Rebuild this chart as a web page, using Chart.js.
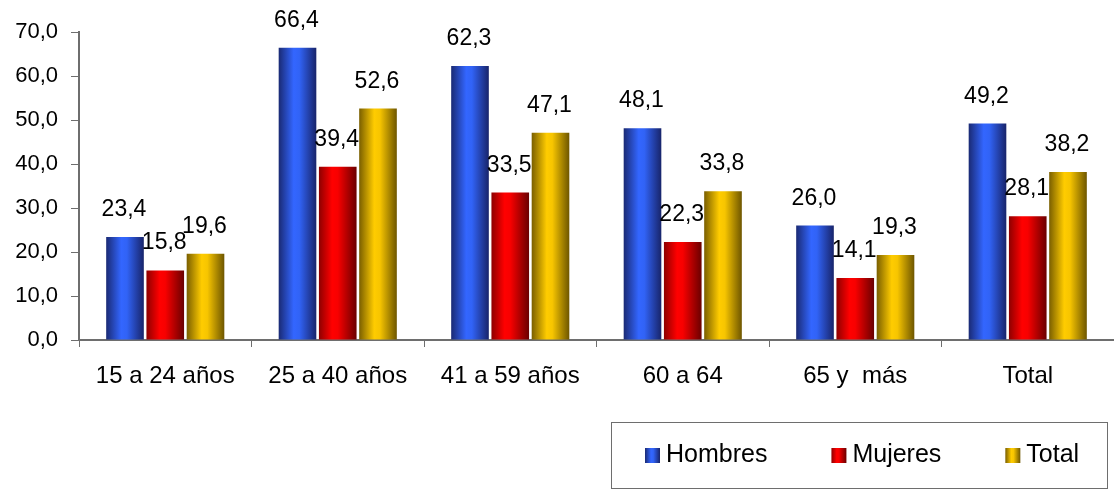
<!DOCTYPE html>
<html>
<head>
<meta charset="utf-8">
<title>Hombres, Mujeres y Total por grupo de edad</title>
<script src="https://cdn.jsdelivr.net/npm/chart.js@4.4.0/dist/chart.umd.min.js"></script>
<style>
  html, body { margin: 0; padding: 0; background: #ffffff; }
  #wrap { width: 1114px; height: 489px; }
</style>
</head>
<body>
<div id="wrap"><canvas id="chart" width="1114" height="489"></canvas></div>
<script>
// Age groups and the three series
const categories = ['15 a 24 años', '25 a 40 años', '41 a 59 años', '60 a 64', '65 y  más', 'Total'];
const hombres = [23.4, 66.4, 62.3, 48.1, 26.0, 49.2];
const mujeres = [15.8, 39.4, 33.5, 22.3, 14.1, 28.1];
const total   = [19.6, 52.6, 47.1, 33.8, 19.3, 38.2];
const seriesNames = ['Hombres', 'Mujeres', 'Total'];
const yTicks = [0, 10, 20, 30, 40, 50, 60, 70];

const FONT = '"Liberation Sans", Arial, Helvetica, sans-serif';

// Horizontal shading stops that give each bar a rounded, cylinder-like look
const blueShade   = [[0, '#1a2a74'], [0.40, '#3366ff'], [0.55, '#3163f6'], [1, '#18246a']];
const redShade    = [[0, '#8e0000'], [0.35, '#ff0000'], [0.50, '#f80000'], [1, '#6a0000']];
const yellowShade = [[0, '#7a5f00'], [0.40, '#ffcc00'], [0.55, '#f7c500'], [1, '#6e5600']];

const fmt = v => Number(v).toFixed(1).replace('.', ',');

function shadeGradient(ctx, left, width, stops) {
  const g = ctx.createLinearGradient(left, 0, left + width, 0);
  stops.forEach(([o, c]) => g.addColorStop(o, c));
  return g;
}

// Apply the cylinder shading to every bar just before the bars are painted
const cylinderShade = {
  id: 'cylinderShade',
  beforeDatasetsDraw(chart) {
    const ctx = chart.ctx;
    chart.data.datasets.forEach((ds, i) => {
      chart.getDatasetMeta(i).data.forEach(bar => {
        const { x, width } = bar.getProps(['x', 'width'], true);
        bar.options.backgroundColor = shadeGradient(ctx, x - width / 2, width, ds.shade);
      });
    });
  }
};

// Value labels above each bar
const valueLabels = {
  id: 'valueLabels',
  afterDatasetsDraw(chart) {
    const ctx = chart.ctx;
    ctx.save();
    ctx.font = '23px ' + FONT;
    ctx.fillStyle = '#000000';
    ctx.textAlign = 'center';
    ctx.textBaseline = 'alphabetic';
    chart.data.datasets.forEach((ds, i) => {
      chart.getDatasetMeta(i).data.forEach((bar, j) => {
        const { x, y } = bar.getProps(['x', 'y'], true);
        ctx.fillText(fmt(ds.data[j]), x - 1, y - 21);
      });
    });
    ctx.restore();
  }
};

// Boxed legend in the lower right corner
const boxedLegend = {
  id: 'boxedLegend',
  afterDraw(chart) {
    const ctx = chart.ctx;
    const boxL = 611, boxT = 422, boxW = 496, boxH = 66;
    ctx.save();
    ctx.strokeStyle = '#6e6e6e';
    ctx.lineWidth = 1;
    ctx.strokeRect(boxL + 0.5, boxT + 0.5, boxW, boxH);

    ctx.font = '25px ' + FONT;
    ctx.fillStyle = '#000000';
    ctx.textAlign = 'left';
    ctx.textBaseline = 'alphabetic';
    const sq = 15;
    let x = boxL + 34;
    const sqTop = boxT + 26;
    chart.data.datasets.forEach(ds => {
      ctx.fillStyle = shadeGradient(ctx, x, sq, ds.shade);
      ctx.fillRect(x, sqTop, sq, sq);
      ctx.fillStyle = '#000000';
      const tx = x + sq + 6;
      ctx.fillText(ds.label, tx, boxT + 40);
      x = tx + ctx.measureText(ds.label).width + 64;
    });
    ctx.restore();
  }
};

const barCommon = {
  borderWidth: 0,
  categoryPercentage: 0.70,
  barPercentage: 0.935
};

new Chart(document.getElementById('chart'), {
  type: 'bar',
  data: {
    labels: categories,
    datasets: [
      Object.assign({ label: seriesNames[0], data: hombres, shade: blueShade,   backgroundColor: () => '#3366ff' }, barCommon),
      Object.assign({ label: seriesNames[1], data: mujeres, shade: redShade,    backgroundColor: () => '#ff0000' }, barCommon),
      Object.assign({ label: seriesNames[2], data: total,   shade: yellowShade, backgroundColor: () => '#ffcc00' }, barCommon)
    ]
  },
  options: {
    responsive: false,
    devicePixelRatio: 1,
    animation: false,
    layout: { padding: { top: 32, right: 0, bottom: 0, left: 0 } },
    plugins: {
      legend: { display: false },
      tooltip: { enabled: false }
    },
    scales: {
      x: {
        offset: true,
        grid: {
          display: true,
          offset: true,
          drawOnChartArea: false,
          drawTicks: true,
          tickLength: 7,
          color: '#6e6e6e',
          lineWidth: 1
        },
        border: { display: true, color: '#6e6e6e', width: 2 },
        ticks: {
          color: '#000000',
          font: { family: FONT, size: 24 },
          padding: 15,
          maxRotation: 0,
          autoSkip: false
        },
        afterFit(scale) { scale.height = 149; }
      },
      y: {
        min: 0,
        max: 70,
        afterBuildTicks(scale) { scale.ticks = yTicks.map(v => ({ value: v })); },
        grid: {
          drawOnChartArea: false,
          drawTicks: true,
          tickLength: 8,
          color: '#6e6e6e',
          lineWidth: 1
        },
        border: { display: true, color: '#6e6e6e', width: 2 },
        ticks: {
          color: '#000000',
          font: { family: FONT, size: 22 },
          padding: 13,
          callback: v => fmt(v)
        },
        afterFit(scale) { scale.width = 79; }
      }
    }
  },
  plugins: [cylinderShade, valueLabels, boxedLegend]
});
</script>
</body>
</html>
